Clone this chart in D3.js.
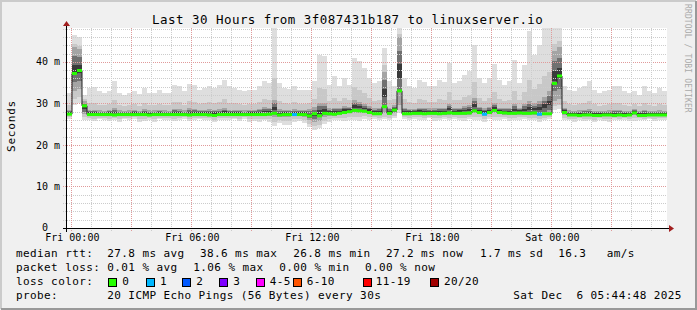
<!DOCTYPE html>
<html>
<head>
<meta charset="utf-8">
<script src="https://cdn.jsdelivr.net/npm/d3@7"></script>
<style>
  body { margin: 0; background: #fff; }
  svg { display: block; }
  text { font-family: "DejaVu Sans Mono", monospace; fill: #000; }
</style>
</head>
<body>
<svg id="chart" width="697" height="310"></svg>
<script>
// 15 minute bins, 30 hours, first bin starts Thu 23:47 (UTC)
const medRtt = [
  27.4, 37.2, 37.9, 29.4, 27.3, 27.3, 27.3, 27.3, 27.3, 27.2,
  27.3, 27.3, 27.3, 27.3, 27.3, 27.3, 27.2, 27.3, 27.3, 27.3,
  27.3, 27.3, 27.3, 27.3, 27.2, 27.3, 27.3, 27.3, 27.2, 27.1,
  27.3, 27.3, 27.3, 27.3, 27.3, 27.3, 27.3, 27.3, 27.3, 27.3,
  27.4, 27.6, 27.2, 27.3, 27.3, 27.3, 27.3, 27.3, 27.0, 27.5,
  27.0, 27.6, 27.5, 27.4, 27.6, 27.8, 28.0, 28.3, 28.2, 28.1,
  27.8, 27.5, 27.5, 29.2, 27.6, 28.4, 33.0, 27.5, 27.5, 27.6,
  27.6, 27.5, 27.6, 27.6, 27.5, 27.6, 27.7, 27.6, 27.6, 27.6,
  27.7, 28.2, 27.8, 27.4, 27.8, 28.3, 27.8, 27.7, 27.6, 27.6,
  27.7, 27.6, 27.6, 27.7, 27.4, 27.5, 27.5, 34.8, 36.6, 27.8,
  27.2, 27.2, 27.1, 27.2, 27.2, 27.1, 27.1, 27.2, 27.2, 27.1,
  27.2, 27.1, 27.2, 27.7, 27.1, 27.1, 27.2, 27.2, 27.2, 27.2
];
const minRtt = [
  26.3, 29.6, 30.0, 26.1, 26.0, 25.8, 26.2, 26.0, 25.7, 26.1,
  25.6, 26.2, 25.9, 26.3, 25.5, 25.8, 26.0, 25.6, 26.2, 25.9,
  26.1, 25.7, 26.0, 26.3, 25.8, 26.0, 26.2, 25.9, 26.0, 25.4,
  26.1, 25.9, 26.0, 26.2, 25.8, 26.3, 25.6, 25.7, 25.5, 25.9,
  25.6, 24.5, 25.3, 24.9, 24.8, 25.6, 25.8, 25.2, 24.4, 23.7,
  24.0, 25.0, 25.6, 25.9, 26.0, 25.7, 26.1, 26.0, 25.8, 26.2,
  26.0, 26.3, 26.1, 26.2, 26.0, 26.4, 27.6, 26.2, 25.9, 26.3,
  26.1, 26.0, 26.4, 25.8, 26.1, 26.2, 25.9, 26.3, 26.0, 25.7,
  26.2, 25.9, 26.1, 25.6, 26.2, 25.9, 26.0, 26.3, 25.8, 26.0,
  26.1, 26.2, 25.9, 26.0, 25.6, 26.1, 26.3, 28.3, 28.6, 26.0,
  25.9, 25.6, 26.0, 25.7, 25.9, 25.5, 26.0, 25.8, 25.6, 26.1,
  25.9, 26.0, 25.7, 25.8, 26.1, 25.9, 26.2, 25.8, 26.0, 26.1
];
const lowQuart = [
  27.1, 33.0, 33.5, 27.4, 27.0, 27.0, 27.0, 27.0, 27.0, 26.9,
  27.0, 27.0, 27.0, 27.0, 27.0, 26.9, 26.9, 27.0, 27.0, 27.0,
  27.0, 26.9, 27.0, 27.0, 26.9, 27.0, 27.0, 27.0, 26.9, 26.8,
  27.0, 27.0, 27.0, 27.0, 27.0, 27.0, 27.0, 26.9, 27.0, 26.9,
  27.0, 26.8, 26.6, 26.8, 26.7, 27.0, 27.0, 26.8, 26.0, 25.6,
  25.8, 26.6, 27.0, 27.0, 27.2, 27.4, 27.6, 27.8, 27.8, 27.7,
  27.5, 27.2, 27.2, 27.6, 27.3, 27.6, 29.5, 27.2, 27.2, 27.3,
  27.3, 27.2, 27.3, 27.3, 27.2, 27.3, 27.3, 27.3, 27.3, 27.3,
  27.3, 27.7, 27.4, 27.0, 27.4, 27.8, 27.4, 27.3, 27.3, 27.2,
  27.3, 27.2, 27.2, 27.3, 27.0, 27.1, 27.2, 30.5, 31.0, 27.3,
  26.9, 26.9, 26.8, 26.9, 26.9, 26.8, 26.8, 26.9, 26.9, 26.8,
  26.9, 26.8, 26.9, 27.3, 26.8, 26.8, 26.9, 26.9, 26.9, 26.9
];
const highQuart = [
  28.4, 43.5, 43.0, 30.5, 28.4, 28.5, 28.3, 28.2, 28.4, 28.8,
  28.3, 28.2, 28.3, 28.4, 28.2, 28.6, 28.3, 28.3, 28.5, 28.3,
  28.2, 28.7, 28.6, 28.3, 28.8, 28.7, 28.4, 28.5, 28.6, 28.5,
  28.6, 28.9, 28.5, 28.4, 28.4, 28.3, 28.4, 28.5, 28.7, 29.2,
  29.0, 30.8, 28.6, 28.5, 28.4, 28.6, 28.4, 28.5, 28.6, 29.2,
  30.2, 30.0, 28.8, 29.0, 28.9, 29.3, 29.2, 30.8, 30.4, 29.8,
  29.3, 28.8, 28.9, 37.5, 28.9, 29.6, 46.0, 28.9, 28.7, 28.7,
  29.0, 28.9, 28.8, 28.8, 29.0, 28.9, 29.8, 28.9, 29.0, 29.3,
  29.5, 31.2, 29.2, 28.8, 29.2, 30.0, 29.0, 28.9, 28.9, 29.8,
  29.0, 29.8, 30.5, 30.0, 30.6, 31.5, 33.0, 42.5, 43.5, 29.0,
  28.3, 28.2, 28.3, 28.4, 28.6, 28.2, 28.1, 28.2, 28.3, 28.4,
  28.4, 28.2, 28.1, 28.6, 28.1, 28.4, 28.2, 28.1, 28.3, 28.2
];
const maxRtt = [
  32.5, 46.5, 46.0, 32.1, 33.7, 34.0, 32.9, 32.5, 32.9, 35.3,
  32.5, 32.1, 32.5, 32.9, 32.3, 33.7, 32.5, 32.5, 33.3, 32.5,
  32.5, 34.3, 34.1, 32.9, 34.7, 34.5, 33.3, 33.7, 34.1, 33.7,
  34.5, 35.7, 34.1, 33.7, 33.3, 32.9, 33.3, 33.3, 34.1, 35.3,
  34.9, 48.2, 34.9, 33.7, 33.5, 34.1, 33.3, 33.3, 33.3, 35.3,
  41.7, 41.3, 34.5, 36.5, 34.1, 36.1, 34.5, 40.9, 40.1, 38.5,
  36.1, 34.9, 35.5, 43.3, 35.3, 34.1, 48.2, 36.1, 34.1, 33.7,
  35.7, 35.1, 34.1, 34.1, 35.7, 35.1, 39.7, 34.9, 35.3, 36.9,
  37.7, 44.0, 36.1, 34.9, 36.1, 39.5, 35.7, 34.5, 35.3, 40.4,
  34.9, 39.3, 47.3, 41.7, 44.1, 48.2, 48.2, 48.2, 48.2, 34.1,
  33.3, 32.9, 33.7, 34.1, 35.3, 33.3, 32.5, 32.9, 33.3, 34.1,
  34.1, 32.9, 32.5, 32.9, 32.1, 34.1, 32.9, 32.5, 33.7, 33.0
];
const lostPings = [
  0, 0, 0, 0, 0, 0, 0, 0, 0, 0,  0, 0, 0, 0, 0, 0, 0, 0, 0, 0,
  0, 0, 0, 0, 0, 0, 0, 0, 0, 0,  0, 0, 0, 0, 0, 0, 0, 0, 0, 0,
  0, 0, 0, 0, 0, 1, 0, 0, 0, 0,  0, 0, 0, 0, 0, 0, 0, 0, 0, 0,
  0, 0, 0, 0, 0, 0, 0, 0, 0, 0,  0, 0, 0, 0, 0, 0, 0, 0, 0, 0,
  0, 0, 0, 1, 0, 0, 0, 0, 0, 0,  0, 0, 0, 0, 1, 0, 0, 0, 0, 0,
  0, 0, 0, 0, 0, 0, 0, 0, 0, 0,  0, 0, 0, 0, 0, 0, 0, 0, 0, 0
];

const yTicks = [0, 10, 20, 30, 40];
const lossLabels = ["0", "1", "2", "3", "4-5", "6-10", "11-19", "20/20"];
const lossColors = ["#26ff00", "#00b8ff", "#0059ff", "#7e00ff", "#ff00ff", "#ff5500", "#ff0000", "#a10000"];
const rttStats = ["27.8 ms avg", "38.6 ms max", "26.8 ms min", "27.2 ms now", "1.7 ms sd", "16.3", "am/s"];
const lossStats = ["0.01 % avg", "1.06 % max", "0.00 % min", "0.00 % now"];

const svg = d3.select("#chart");
const W = 697, H = 310;
const t0 = Date.UTC(2025, 11, 4, 23, 47);
const binMs = 15 * 60000;

const xScale = d3.scaleUtc()
  .domain([new Date(t0), new Date(t0 + 30 * 3600000)])
  .range([67, 667]);
const yScale = d3.scaleLinear().domain([0, 48.14]).range([228, 28]);

// background + 3d border
svg.append("rect").attr("width", W).attr("height", H).attr("fill", "#f0f0f0");
svg.append("path").attr("d", "M1,309V1H696").attr("fill", "none").attr("stroke", "#cbcbcb").attr("stroke-width", 2);
svg.append("path").attr("d", "M1,309H696V1").attr("fill", "none").attr("stroke", "#999").attr("stroke-width", 2);
svg.append("rect").attr("x", 67).attr("y", 28).attr("width", 600).attr("height", 200).attr("fill", "#fff");

// smoke
const bins = medRtt.map((m, i) => ({
  x0: xScale(new Date(t0 + i * binMs)),
  x1: xScale(new Date(t0 + (i + 1) * binMs)),
  med: m, lo: minRtt[i], q1: lowQuart[i], q3: highQuart[i], hi: maxRtt[i], loss: lostPings[i]
}));

function band(cls, color, loF, hiF) {
  svg.append("g").attr("shape-rendering", "crispEdges")
    .selectAll("rect." + cls).data(bins).enter().append("rect")
    .attr("class", cls)
    .attr("x", d => d.x0)
    .attr("width", d => d.x1 - d.x0)
    .attr("y", d => yScale(hiF(d)))
    .attr("height", d => Math.max(0, yScale(loF(d)) - yScale(hiF(d))))
    .attr("fill", color);
}
band("s1", "#dedede", d => d.lo, d => d.hi);
band("s2", "#c8c8c8", d => d.lo + (d.q1 - d.lo) * 0.45, d => d.q3 + (d.hi - d.q3) * 0.3);
band("s3", "#a4a4a4", d => d.q1, d => d.q3);
band("s4", "#707070", d => d.q1 + (d.q3 - d.q1) * 0.2, d => d.q3 - (d.q3 - d.q1) * 0.2);
band("s5", "#3a3a3a", d => d.q1 + (d.q3 - d.q1) * 0.4, d => d.q3 - (d.q3 - d.q1) * 0.4);

// grid
const grid = svg.append("g").attr("fill", "none").attr("stroke-dasharray", "1,1").attr("shape-rendering", "crispEdges");
d3.range(2, 48.14, 2).forEach(v => {
  const y = Math.round(yScale(v)) + 0.5;
  grid.append("line").attr("x1", 63).attr("x2", 667).attr("y1", y).attr("y2", y)
    .attr("stroke", v % 10 === 0 ? "#e09a9a" : "#cccccc");
});
xScale.ticks(d3.utcHour.every(1)).forEach(t => {
  const x = Math.round(xScale(t)) + 0.5;
  grid.append("line").attr("x1", x).attr("x2", x).attr("y1", 28).attr("y2", 232)
    .attr("stroke", t.getUTCHours() % 3 === 0 ? "#e09a9a" : "#cccccc");
});

// median: dark step line, then loss coloured segments
const stepPts = bins.map(d => [d.x0, yScale(d.med)]);
stepPts.push([667, yScale(medRtt[medRtt.length - 1])]);
svg.append("path")
  .attr("d", d3.line().curve(d3.curveStepAfter)(stepPts))
  .attr("fill", "none").attr("stroke", "#202020").attr("stroke-width", 1);

function lossIndex(n) {
  if (n <= 3) return n;
  if (n <= 5) return 4;
  if (n <= 10) return 5;
  if (n <= 19) return 6;
  return 7;
}
svg.append("g").selectAll("line").data(bins).enter().append("line")
  .attr("x1", d => d.x0).attr("x2", d => d.x1)
  .attr("y1", d => yScale(d.med)).attr("y2", d => yScale(d.med))
  .attr("stroke", d => lossColors[lossIndex(d.loss)])
  .attr("stroke-width", 3);

// axes
svg.append("line").attr("x1", 63).attr("x2", 670).attr("y1", 228.5).attr("y2", 228.5).attr("stroke", "#000");
svg.append("line").attr("x1", 66.5).attr("x2", 66.5).attr("y1", 232).attr("y2", 25).attr("stroke", "#000");
svg.append("path").attr("d", "M669,225L674,228.5L669,232Z").attr("fill", "#a11f1f");
svg.append("path").attr("d", "M63,26L66.5,21L70,26Z").attr("fill", "#a11f1f");

// y labels
svg.append("g").selectAll("text").data(yTicks).enter().append("text")
  .attr("x", 60).attr("y", d => yScale(d)).attr("dy", d => d === 0 ? "0.25em" : "0.36em")
  .attr("text-anchor", "end").style("font-size", "10px")
  .text(d => d === 0 ? "0\u00a0\u00a0" : d + " m");

// x labels
const fmt = d3.utcFormat("%a %H:%M");
svg.append("g").selectAll("text").data(xScale.ticks(d3.utcHour.every(6))).enter().append("text")
  .attr("x", d => xScale(d) + 1).attr("y", 241)
  .attr("text-anchor", "middle").style("font-size", "10px")
  .text(d => fmt(d));

// title, axis title, watermark
svg.append("text").attr("x", 347.7).attr("y", 24).attr("text-anchor", "middle")
  .style("font-size", "12.5px").style("letter-spacing", "0.46px")
  .text("Last 30 Hours from 3f087431b187 to linuxserver.io");
svg.append("text").attr("transform", "translate(14.5,126) rotate(-90)").attr("text-anchor", "middle")
  .style("font-size", "11px").style("letter-spacing", "0.8px").text("Seconds");
svg.append("text").attr("transform", "translate(685,4) rotate(90)")
  .style("font-size", "8px").style("letter-spacing", "0.13px").style("fill", "#aaaaaa")
  .text("RRDTOOL / TOBI OETIKER");

// legend
const leg = svg.append("g").style("font-size", "11px").style("letter-spacing", "0.4px");
function put(x, y, s) { leg.append("text").attr("x", x).attr("y", y).text(s); }
put(16, 257.3, "median rtt:");
[107.3, 200, 293.3, 386, 480, 558.3, 606.7].forEach((x, i) => put(x, 257.3, rttStats[i]));
put(16, 271.3, "packet loss:");
[107.3, 193.3, 279.3, 365].forEach((x, i) => put(x, 271.3, lossStats[i]));
put(16, 285.3, "loss color:");
const boxX = [108.3, 145.7, 182.3, 219, 256, 292.7, 363, 430];
const labX = [123.3, 161, 197.3, 234.3, 270.7, 307.7, 376.7, 445];
lossLabels.forEach((s, i) => {
  leg.append("rect").attr("x", Math.round(boxX[i]) + 0.5).attr("y", 278.5).attr("width", 8).attr("height", 8)
    .attr("fill", lossColors[i]).attr("stroke", "#000");
  put(labX[i] - 1, 285.3, s);
});
put(16, 299.3, "probe:");
put(107.3, 299.3, "20 ICMP Echo Pings (56 Bytes) every 30s");
put(513.3, 299.3, "Sat Dec\u00a0\u00a06 05:44:48 2025");
</script>
</body>
</html>
